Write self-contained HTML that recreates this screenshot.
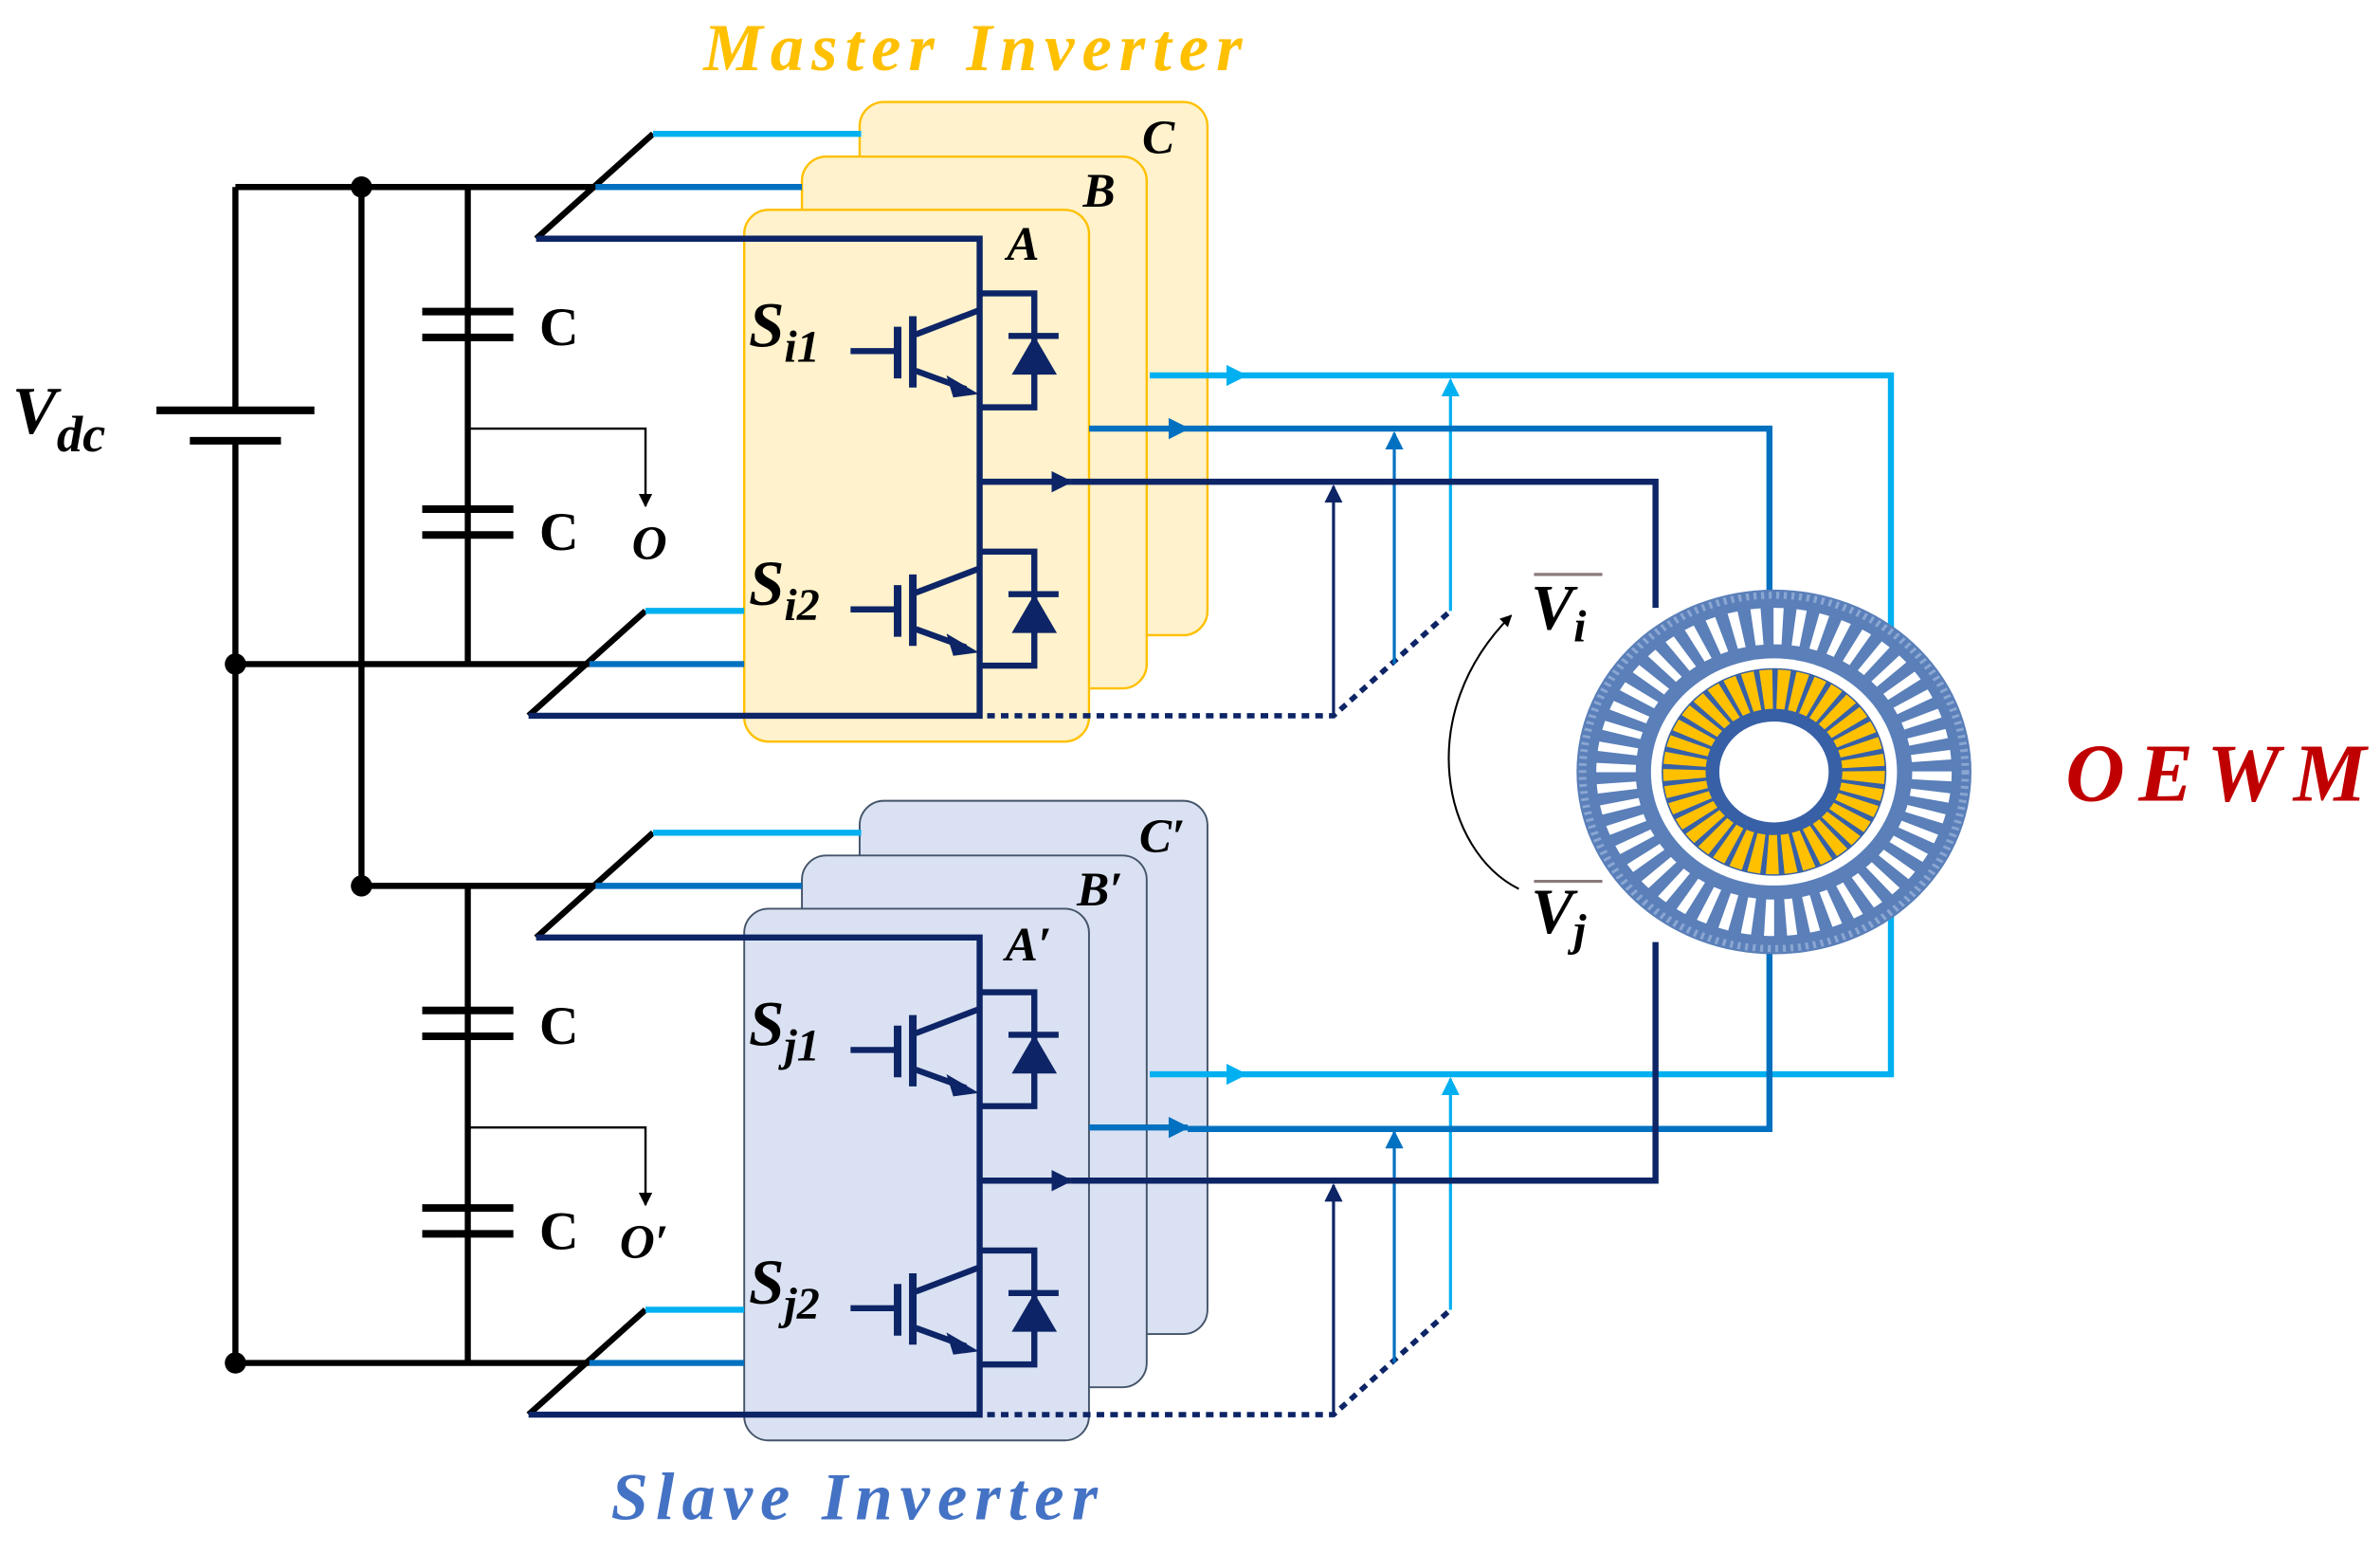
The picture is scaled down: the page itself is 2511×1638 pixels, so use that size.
<!DOCTYPE html>
<html><head><meta charset="utf-8"><style>
html,body{margin:0;padding:0;background:#fff;}
svg{display:block;}
text{font-family:"Liberation Serif",serif;font-weight:bold;font-style:italic;}
</style></head><body>
<svg width="2511" height="1638" viewBox="0 0 1567 1022" xmlns="http://www.w3.org/2000/svg">
<defs>
<marker id="an" viewBox="0 0 10 10" refX="9" refY="5" markerWidth="3.5" markerHeight="3.5" orient="auto"><path d="M0,0L10,5L0,10z" fill="#0d2566"/></marker>
<marker id="am" viewBox="0 0 10 10" refX="9" refY="5" markerWidth="3.5" markerHeight="3.5" orient="auto"><path d="M0,0L10,5L0,10z" fill="#0070c0"/></marker>
<marker id="al" viewBox="0 0 10 10" refX="9" refY="5" markerWidth="3.5" markerHeight="3.5" orient="auto"><path d="M0,0L10,5L0,10z" fill="#00b0f0"/></marker>
<marker id="an2" viewBox="0 0 10 10" refX="9" refY="5" markerWidth="6" markerHeight="6" orient="auto"><path d="M0,0L10,5L0,10z" fill="#0d2566"/></marker>
<marker id="am2" viewBox="0 0 10 10" refX="9" refY="5" markerWidth="6" markerHeight="6" orient="auto"><path d="M0,0L10,5L0,10z" fill="#0070c0"/></marker>
<marker id="al2" viewBox="0 0 10 10" refX="9" refY="5" markerWidth="6" markerHeight="6" orient="auto"><path d="M0,0L10,5L0,10z" fill="#00b0f0"/></marker>
<marker id="ak" viewBox="0 0 10 10" refX="9" refY="5" markerWidth="6" markerHeight="6" orient="auto"><path d="M0,0L10,5L0,10z" fill="#000"/></marker>
<g id="sw" stroke="#0d2566" fill="none" stroke-width="4">
  <path d="M645,193 H681 V268 H645"/>
  <path d="M645,204 L603,220"/>
  <path d="M601,208 V255" stroke-width="5"/>
  <path d="M591,215 V249" stroke-width="5"/>
  <path d="M560,231 H591"/>
  <path d="M603,244 L636,256"/>
  <path d="M624,248 L643,259 L628,261z" fill="#0d2566" stroke-width="1"/>
  <path d="M664,221 H697" stroke-width="4"/>
  <path d="M681,222 L695,246 H667z" fill="#0d2566" stroke-width="1"/>
</g>
<g id="half">
  <g stroke="#000" stroke-width="4" fill="none">
    <path d="M353,157 L430,88"/>
    <path d="M348,471 L425,402"/>
    <path d="M308,123 V437"/>
    <path d="M278,205 H338 M278,222 H338 M278,335 H338 M278,352 H338" stroke-width="5"/>
  </g>
  <path d="M308,282 H425 V333" stroke="#000" stroke-width="1.5" fill="none" marker-end="url(#ak)"/>
  <text x="355" y="227" font-size="36" style="font-style:normal">C</text>
  <text x="355" y="362" font-size="36" style="font-style:normal">C</text>
  <path d="M430,88 H567" stroke="#00b0f0" stroke-width="4"/>
  <path d="M392,123 H528" stroke="#0070c0" stroke-width="4"/>
  <path d="M353,157 H645 V471 H348" stroke="#0d2566" stroke-width="4" fill="none"/>
  <path d="M425,402 H490" stroke="#00b0f0" stroke-width="4"/>
  <path d="M388,437 H490" stroke="#0070c0" stroke-width="4"/>
  <use href="#sw"/>
  <use href="#sw" y="170"/>
  <path d="M650,471 H878 L955,402" stroke="#0d2566" stroke-width="3.5" stroke-dasharray="5,4" fill="none"/>
  <path d="M878,471 V320" stroke="#0d2566" stroke-width="2" marker-end="url(#an2)"/>
  <path d="M918,437 V285" stroke="#0070c0" stroke-width="2" marker-end="url(#am2)"/>
  <path d="M955,402 V250" stroke="#00b0f0" stroke-width="2" marker-end="url(#al2)"/>
  <path d="M645,317 H705" stroke="#0d2566" stroke-width="4" marker-end="url(#an)"/>
  <path d="M717,282 H782" stroke="#0070c0" stroke-width="4" marker-end="url(#am)"/>
  <path d="M757,247 H820" stroke="#00b0f0" stroke-width="4" marker-end="url(#al)"/>
</g>
</defs>

<g fill="#fff2cc" stroke="#ffc000" stroke-width="1.5">
  <rect x="566" y="67" width="229" height="351" rx="16"/>
  <rect x="528" y="103" width="227" height="350" rx="16"/>
  <rect x="490" y="138" width="227" height="350" rx="16"/>
</g>
<g fill="#d9e1f2" stroke="#44546a" stroke-width="1.2">
  <rect x="566" y="527" width="229" height="351" rx="16"/>
  <rect x="528" y="563" width="227" height="350" rx="16"/>
  <rect x="490" y="598" width="227" height="350" rx="16"/>
</g>

<use href="#half"/>
<use href="#half" y="460"/>

<g stroke="#000" stroke-width="4" fill="none">
  <path d="M155,123 H392"/>
  <path d="M155,123 V270 M155,290 V897"/>
  <path d="M238,123 V583 H392"/>
  <path d="M155,437 H388"/>
  <path d="M155,897 H388"/>
  <path d="M103,270 H207" stroke-width="5"/>
  <path d="M125,290 H185" stroke-width="5"/>
</g>
<g fill="#000">
  <circle cx="238" cy="123" r="7"/><circle cx="238" cy="583" r="7"/>
  <circle cx="155" cy="437" r="7"/><circle cx="155" cy="897" r="7"/>
</g>

<g fill="none" stroke-width="4">
  <path d="M820,247 H1245 V450" stroke="#00b0f0"/>
  <path d="M782,282 H1165 V395" stroke="#0070c0"/>
  <path d="M705,317 H1090 V400" stroke="#0d2566"/>
  <path d="M820,707 H1245 V600" stroke="#00b0f0"/>
  <path d="M782,743 H1165 V620" stroke="#0070c0"/>
  <path d="M705,777 H1090 V620" stroke="#0d2566"/>
</g>

<g transform="translate(1168,508) scale(1,0.923)">
  <circle r="130" fill="#5a7fb9"/>
  <circle r="126" fill="none" stroke="#8aa6d2" stroke-width="5" stroke-dasharray="2,3"/>
  <circle r="104" fill="none" stroke="#fff" stroke-width="26" stroke-dasharray="6,7.6"/>
  <circle r="81" fill="#fff"/>
  <circle r="74" fill="#3760a6"/>
  <circle r="59" fill="none" stroke="#ffc000" stroke-width="28" stroke-dasharray="7,3"/>
  <circle r="36" fill="#fff"/>
</g>

<path d="M1000,585 C950,560 930,470 995,405" fill="none" stroke="#000" stroke-width="1.3" marker-end="url(#ak)"/>

<text x="8" y="285" font-size="44">V<tspan font-size="34" dy="12">dc</tspan></text>
<text x="416" y="368" font-size="32">O</text>
<text x="408" y="828" font-size="32">O′</text>
<text x="752" y="101" font-size="32">C</text>
<text x="713" y="136" font-size="32">B</text>
<text x="663" y="171" font-size="32">A</text>
<text x="750" y="561" font-size="32">C′</text>
<text x="709" y="596" font-size="32">B′</text>
<text x="662" y="632" font-size="32">A′</text>
<text x="493" y="228" font-size="42">S<tspan font-size="30" dy="10">i1</tspan></text>
<text x="493" y="398" font-size="42">S<tspan font-size="30" dy="10">i2</tspan></text>
<text x="493" y="688" font-size="42">S<tspan font-size="30" dy="10">j1</tspan></text>
<text x="493" y="858" font-size="42">S<tspan font-size="30" dy="10">j2</tspan></text>
<text x="1008" y="414" font-size="42">V<tspan font-size="30" dy="8">i</tspan></text>
<path d="M1010,378 H1055" stroke="#8a7a7a" stroke-width="2"/>
<text x="1008" y="614" font-size="42">V<tspan font-size="30" dy="8">j</tspan></text>
<path d="M1010,580 H1055" stroke="#8a7a7a" stroke-width="2"/>
<text x="1360" y="527" font-size="54" fill="#c00000" letter-spacing="9">OEWM</text>
<text x="643" y="46" font-size="44" fill="#ffc000" text-anchor="middle" letter-spacing="5">Master Inverter</text>
<text x="565" y="1000" font-size="44" fill="#4472c4" text-anchor="middle" letter-spacing="5">Slave Inverter</text>
</svg>
</body></html>
